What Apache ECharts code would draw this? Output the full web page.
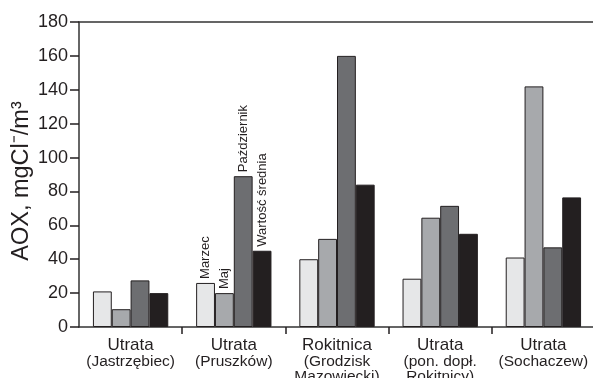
<!DOCTYPE html>
<html>
<head>
<meta charset="utf-8">
<script src="https://cdn.jsdelivr.net/npm/echarts@6/dist/echarts.min.js"></script>
<style>html,body{margin:0;padding:0;background:#fff;}#c{width:593px;height:378px;}</style>
</head>
<body>
<div id="c"></div>
<script>
const catMain = ['Utrata', 'Utrata', 'Rokitnica', 'Utrata', 'Utrata'];
const catSub = ['(Jastrzębiec)', '(Pruszków)', '(Grodzisk\nMazowiecki)', '(pon. dopł.\nRokitnicy)', '(Sochaczew)'];
const seriesNames = ['Marzec', 'Maj', 'Październik', 'Wartość średnia'];
const marzec = [21, 26, 40, 28.5, 41];
const maj = [10.5, 20, 52, 64.5, 142];
const pazdziernik = [27.5, 89, 160, 71.5, 47];
const srednia = [20, 45, 84, 55, 76.5];
const yTicks = [0, 20, 40, 60, 80, 100, 120, 140, 160, 180];
const labelledGroup = 1;

const colors = ['#e6e7e8', '#a7a9ac', '#6d6e71', '#231f20'];
const ink = '#231f20';
const FONT = '"Liberation Sans", Arial, sans-serif';

const categories = catMain.map((m, i) => m + '\n' + catSub[i]);
const allSeries = [marzec, maj, pazdziernik, srednia];

const chart = echarts.init(document.getElementById('c'), null, {renderer: 'canvas'});
chart.setOption({
  animation: false,
  backgroundColor: '#fff',
  grid: {left: 79, top: 22, width: 516, bottom: 51, containLabel: false, outerBoundsMode: 'none'},
  xAxis: [{
    type: 'category',
    data: categories,
    axisLine: {show: true, lineStyle: {color: '#333', width: 1.5}},
    axisTick: {show: true, length: 7, lineStyle: {color: ink, width: 1.5},
      interval: function (idx) { return idx !== 0; }},
    axisLabel: {
      margin: 9,
      color: ink,
      fontFamily: FONT,
      interval: 0,
      hideOverlap: false,
      formatter: function (v) {
        const parts = v.split('\n');
        let s = '{a|' + parts[0] + '}';
        for (let i = 1; i < parts.length; i++) s += '\n{b|' + parts[i] + '}';
        return s;
      },
      rich: {
        a: {fontSize: 17, lineHeight: 18, color: ink, fontFamily: FONT},
        b: {fontSize: 15.5, lineHeight: 15, color: ink, fontFamily: FONT}
      }
    }
  }, {
    type: 'category',
    position: 'top',
    data: categories,
    axisLine: {show: true, lineStyle: {color: '#333', width: 1.5}},
    axisTick: {show: false},
    axisLabel: {show: false}
  }],
  yAxis: {
    type: 'value',
    min: 0, max: 180, interval: 20,
    name: 'AOX, mgCl\u207B/m\u00B3',
    nameLocation: 'middle',
    nameMoveOverlap: false,
    nameGap: 57,
    nameTextStyle: {fontSize: 23.5, color: ink, fontFamily: FONT, verticalAlign: 'middle', padding: [0, 13, 0, 0]},
    axisLine: {show: true, lineStyle: {color: '#333', width: 1.5}},
    axisTick: {show: true, length: 9, lineStyle: {color: ink, width: 1.5}},
    splitLine: {show: false},
    axisLabel: {
      margin: 11, fontSize: 18, color: ink, fontFamily: FONT,
      formatter: function (v) { return yTicks.indexOf(v) >= 0 ? String(v) : ''; }
    }
  },
  series: allSeries.map((vals, si) => ({
    type: 'bar',
    name: seriesNames[si],
    barGap: '0%',
    barCategoryGap: '27%',
    itemStyle: {color: colors[si], borderColor: ink, borderWidth: 1},
    data: vals.map((v, gi) => gi === labelledGroup ? {
      value: v,
      label: {
        show: true, position: 'top', rotate: 90, align: 'left', verticalAlign: 'middle',
        distance: 4, fontSize: 13, color: ink, fontFamily: FONT,
        formatter: seriesNames[si]
      }
    } : v)
  }))
});
</script>
</body>
</html>
